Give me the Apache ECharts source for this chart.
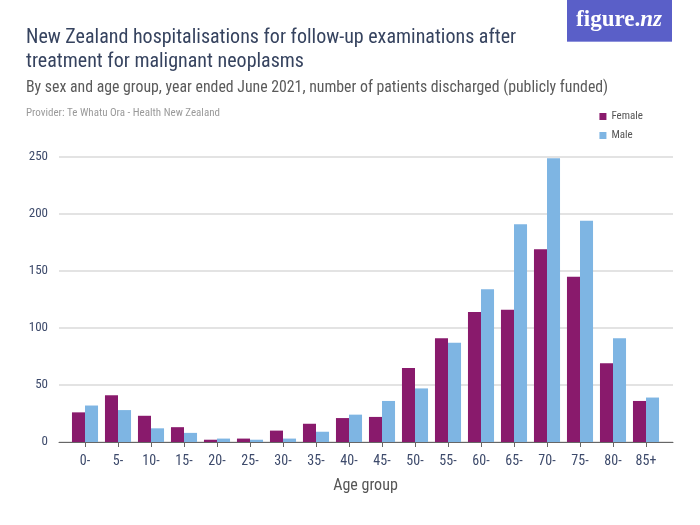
<!DOCTYPE html>
<html>
<head>
<meta charset="utf-8">
<script src="https://cdn.jsdelivr.net/npm/echarts@6/dist/echarts.min.js"></script>
<style>html,body{margin:0;padding:0;background:#fff}#c{width:700px;height:525px}</style>
</head>
<body>
<div id="c"></div>
<script>
const categories = ['0-','5-','10-','15-','20-','25-','30-','35-','40-','45-','50-','55-','60-','65-','70-','75-','80-','85+'];
const female = [26,41,23,13,2,3,10,16,21,22,65,91,114,116,169,145,69,36];
const male = [32,28,12,8,3,2,3,9,24,36,47,87,134,191,249,194,91,39];
const yTicks = [0,50,100,150,200,250];

const FONT = '"Liberation Sans Narrow","Roboto Condensed","Liberation Sans",sans-serif';
const chart = echarts.init(document.getElementById('c'), null, {renderer:'canvas'});
chart.setOption({
  animation: false,
  textStyle: {fontFamily: FONT},
  graphic: [
    {type:'rect', shape:{x:567,y:0,width:105,height:42}, style:{fill:'#5a5fc8'}},
    {type:'rect', shape:{x:567,y:41,width:105,height:1}, style:{fill:'#8e92dc'}},
    {type:'text', x:619, y:20, style:{
      text:'{a|figure.}{b|nz}', textAlign:'center', textVerticalAlign:'middle',
      rich:{
        a:{fill:'#fff', font:'bold 23px "Liberation Serif",serif'},
        b:{fill:'#fff', font:'italic bold 23px "Liberation Serif",serif'}
      }}},
    {type:'text', x:26, y:28, style:{text:'New Zealand hospitalisations for follow-up examinations after', fill:'#36435f', font:'20px '+FONT}},
    {type:'text', x:26, y:52, style:{text:'treatment for malignant neoplasms', fill:'#36435f', font:'20px '+FONT}},
    {type:'text', x:26, y:80, style:{text:'By sex and age group, year ended June 2021, number of patients discharged (publicly funded)', fill:'#5a5a5a', font:'15.8px '+FONT}},
    {type:'text', x:26, y:108, style:{text:'Provider: Te Whatu Ora - Health New Zealand', fill:'#9a9a9a', font:'11px '+FONT}}
  ],
  legend: {
    orient:'vertical', right:52, top:106, itemWidth:7, itemHeight:7, itemGap:8,
    icon:'rect',
    textStyle:{color:'#555', fontSize:11, fontFamily:FONT},
    data:['Female','Male']
  },
  grid: [
    {left:68.5, right:37.5, top:157, bottom:83, containLabel:false},
    {left:59, right:27, top:157, bottom:83, containLabel:false}
  ],
  xAxis: [
    {type:'category', gridIndex:0, data:categories,
     axisLine:{show:false},
     axisTick:{show:true, alignWithLabel:true, length:5, lineStyle:{color:'#666'}},
     axisLabel:{color:'#3d4a6b', fontSize:14, margin:12, fontFamily:FONT},
     name:'Age group', nameLocation:'middle', nameGap:36,
     nameTextStyle:{color:'#555', fontSize:16, fontFamily:FONT}
    },
    {type:'value', gridIndex:1, min:0, max:1, show:true,
     axisLine:{show:true, lineStyle:{color:'#666', width:1}},
     axisTick:{show:false}, axisLabel:{show:false}, splitLine:{show:false}}
  ],
  yAxis: [
    {type:'value', gridIndex:0, min:0, max:250, interval:50,
     axisLine:{show:false}, axisTick:{show:false}, axisLabel:{show:false}, splitLine:{show:false}},
    {type:'value', gridIndex:1, min:yTicks[0], max:yTicks[yTicks.length-1], interval:50,
     axisLine:{show:false}, axisTick:{show:false},
     axisLabel:{color:'#3d4a6b', fontSize:13, margin:11, fontFamily:FONT},
     splitLine:{show:true, lineStyle:{color:'#e3e3e3', width:2}}}
  ],
  series: [
    {name:'Female', type:'bar', xAxisIndex:0, yAxisIndex:0, data:female, barGap:'0%', barCategoryGap:'21%', itemStyle:{color:'#891a6c'}, z:3},
    {name:'Male', type:'bar', xAxisIndex:0, yAxisIndex:0, data:male, barGap:'0%', barCategoryGap:'21%', itemStyle:{color:'#7eb5e3'}, z:3}
  ]
});
</script>
</body>
</html>
